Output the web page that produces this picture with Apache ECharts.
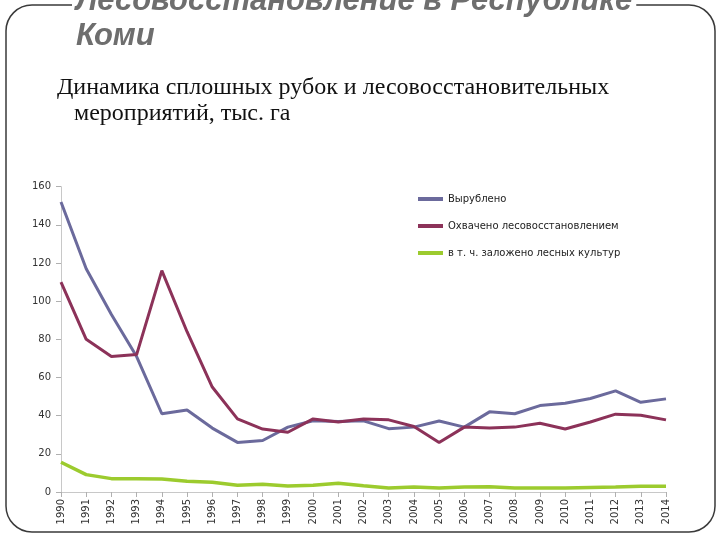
<!DOCTYPE html>
<html>
<head>
<meta charset="utf-8">
<script src="https://cdn.jsdelivr.net/npm/echarts@6/dist/echarts.min.js"></script>
<style>
html,body{margin:0;padding:0;background:#fff;}
#chart{width:720px;height:540px;}
</style>
</head>
<body>
<div id="chart"></div>
<script>
const years = ['1990','1991','1992','1993','1994','1995','1996','1997','1998','1999','2000','2001','2002','2003','2004','2005','2006','2007','2008','2009','2010','2011','2012','2013','2014'];
const felled = [152,117,93,71,41,43,33.5,26,27,34,37.3,37,37.3,33.2,34,37.2,34,42,41,45.3,46.5,49,53,47,48.8];
const reforested = [110,80,71,72,116,84,55,38.3,33,31.3,38.3,36.7,38.2,37.8,34.3,25.9,34,33.6,34,36,33,36.7,40.8,40.2,37.8];
const planted = [15.6,9.1,7,7,6.8,5.6,5.1,3.5,4,3.1,3.5,4.6,3.3,2.1,2.6,2.1,2.6,2.8,2.1,2.1,2.1,2.4,2.6,3,3];
const seriesNames = ['Вырублено','Охвачено лесовосстановлением','в т. ч. заложено лесных культур'];
const yTicks = {min:0, max:160, interval:20};

const chart = echarts.init(document.getElementById('chart'));
chart.setOption({
  animation:false,
  backgroundColor:'#fff',
  color:['#6b6a9c','#8c3259','#9ccb2e'],
  graphic:[{
    type:'rect', z:0,
    shape:{x:6,y:5,width:709,height:527,r:26},
    style:{fill:'none',stroke:'#3a3a3a',lineWidth:1.5}
  }],
  title:[{
    text:'Лесовосстановление в Республике\nКоми',
    left:72, top:-16,
    padding:[0,4,0,4],
    backgroundColor:'#fff',
    textStyle:{fontFamily:'Liberation Sans, Arial, sans-serif',fontSize:31,fontWeight:'bold',fontStyle:'italic',color:'#6e6e6e',lineHeight:35}
  },{
    text:'Динамика сплошных рубок и лесовосстановительных',
    left:57, top:76, padding:0,
    textStyle:{fontFamily:'Liberation Serif, Times New Roman, serif',fontSize:24,fontWeight:'normal',color:'#111'}
  },{
    text:'мероприятий, тыс. га',
    left:74, top:102, padding:0,
    textStyle:{fontFamily:'Liberation Serif, Times New Roman, serif',fontSize:24,fontWeight:'normal',color:'#111'}
  }],
  legend:{
    orient:'vertical', left:413, top:188,
    icon:'rect', itemWidth:25, itemHeight:4, itemGap:15,
    textStyle:{fontFamily:'DejaVu Sans, Verdana, sans-serif',fontSize:10,color:'#222',lineHeight:12},
    data:seriesNames
  },
  grid:{left:61,right:54,top:186.7,bottom:48,containLabel:false},
  xAxis:{
    type:'category', data:years, boundaryGap:false,
    axisLine:{lineStyle:{color:'#c8c8c8',width:1}},
    axisTick:{show:true,length:5,lineStyle:{color:'#b0b0b0'}},
    axisLabel:{rotate:90,margin:7,fontFamily:'DejaVu Sans, Verdana, sans-serif',fontSize:10,color:'#333',interval:0},
    splitLine:{show:false}
  },
  yAxis:{
    type:'value', min:yTicks.min, max:yTicks.max, interval:yTicks.interval,
    axisLine:{show:true,lineStyle:{color:'#c8c8c8',width:1}},
    axisTick:{show:true,length:5,lineStyle:{color:'#b0b0b0'}},
    axisLabel:{margin:10,fontFamily:'DejaVu Sans, Verdana, sans-serif',fontSize:10,color:'#333'},
    splitLine:{show:false}
  },
  series:[
    {name:seriesNames[0],type:'line',data:felled,showSymbol:false,lineStyle:{width:3},z:3},
    {name:seriesNames[1],type:'line',data:reforested,showSymbol:false,lineStyle:{width:3},z:4},
    {name:seriesNames[2],type:'line',data:planted,showSymbol:false,lineStyle:{width:3.5},z:2}
  ]
});
</script>
</body>
</html>
